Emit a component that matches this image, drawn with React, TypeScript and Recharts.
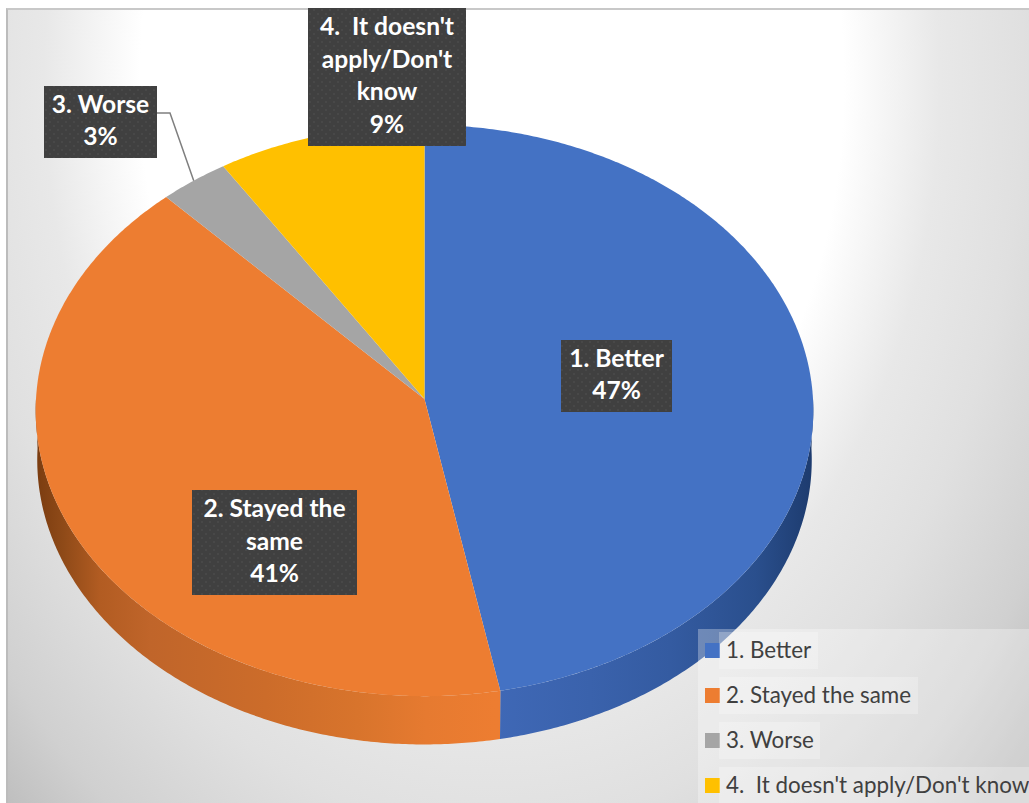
import { Legend, Pie, PieChart, Cell } from "recharts";

const categories = ["1. Better", "2. Stayed the same", "3. Worse", "4.  It doesn't apply/Don't know"];
const shares = [47, 41, 3, 9];
const sliceColors = ["#4472c4", "#ed7d31", "#a5a5a5", "#ffc000"];
const labelRows = [["1. Better"], ["2. Stayed the", "same"], ["3. Worse"], ["4.  It doesn't", "apply/Don't", "know"]];

// dark callout boxes, [left, top, width, height]
const labelBoxes = [
  [561, 340, 111, 72],
  [192, 490, 165, 105],
  [44, 86, 113, 72],
  [308, 8, 158, 138],
];

const sliceData = categories.map((name, i) => ({ name, value: shares[i] }));

// side wall shading, darkest at the far left / far right of the disc
const blueWallStops = [[0, "#3f68b6"], [0.3, "#3a62ac"], [0.55, "#345ba1"], [0.82, "#2a4f8d"], [1, "#1d3b6e"]];
const orangeWallStops = [[0, "#7a3c10"], [0.06, "#8f4a18"], [0.14, "#b25c22"], [0.25, "#c0652a"], [0.5, "#cc6c2a"], [0.7, "#d8742c"], [0.85, "#e67a30"], [1, "#ed7d31"]];

const WIDTH = 1029;
const HEIGHT = 803;
const CX = 424.5;
const CY = 399;
const RADIUS = 388.5;
const SQUASH = 0.734; // tilt of the disc
const TILT = 0.0403; // near edge drawn slightly larger than the far edge
const DEPTH = 49.5;

// projects a clockwise-from-top angle on the tilted disc
function project(theta: number, cx: number, cy: number, r: number, drop = 0) {
  const rad = (theta * Math.PI) / 180;
  const u = Math.sin(rad);
  const v = Math.cos(rad);
  const k = 1 + TILT * v;
  return [cx + (r * u) / k, cy + drop - (r * SQUASH * v) / k];
}

function arcPoints(from: number, to: number, cx: number, cy: number, r: number, drop = 0) {
  const steps = Math.max(2, Math.ceil(Math.abs(to - from) * 2));
  const pts: number[][] = [];
  for (let i = 0; i <= steps; i++) {
    pts.push(project(from + ((to - from) * i) / steps, cx, cy, r, drop));
  }
  return pts;
}

const toPath = (pts: number[][]) => pts.map((p, i) => `${i ? "L" : "M"}${p[0].toFixed(2)},${p[1].toFixed(2)}`).join("");

function TiltedSlice(props: any) {
  const { cx, cy, outerRadius, startAngle, endAngle, fill, name } = props;
  const from = 90 - startAngle;
  const to = 90 - endAngle;
  const wallFrom = Math.max(from, 90);
  const wallTo = Math.min(to, 270);
  const idx = categories.indexOf(name);
  const face = toPath([[cx, cy], ...arcPoints(from, to, cx, cy, outerRadius)]) + "Z";
  return (
    <g>
      {wallTo > wallFrom && (
        <path
          d={
            toPath([
              ...arcPoints(wallFrom, wallTo, cx, cy, outerRadius),
              ...arcPoints(wallTo, wallFrom, cx, cy, outerRadius * 0.996, DEPTH),
            ]) + "Z"
          }
          fill={`url(#wall-${idx})`}
        />
      )}
      <path d={face} fill={fill} />
    </g>
  );
}

function SliceLabel(props: any) {
  const { name, value } = props;
  const idx = categories.indexOf(name);
  const [x, y, w, h] = labelBoxes[idx];
  const rows = [...labelRows[idx], `${value}%`];
  const mid = x + w / 2;
  const step = 32.6;
  const first = y + h / 2 - ((rows.length - 1) * step) / 2 - 2.5;
  return (
    <g>
      <rect x={x} y={y} width={w} height={h} fill="#404040" />
      <rect x={x} y={y} width={w} height={h} fill="url(#label-dots)" />
      {rows.map((row, i) => (
        <text
          key={i}
          x={mid}
          y={first + i * step}
          textAnchor="middle"
          dominantBaseline="central"
          fill="#ffffff"
          fontFamily="Lato"
          fontWeight={700}
          fontSize={24.6}
          style={{ whiteSpace: "pre" }}
        >
          {row}
        </text>
      ))}
    </g>
  );
}

// only the small grey slice gets a leader line
function SliceLeader(props: any) {
  const { name, cx, cy, outerRadius, midAngle } = props;
  const idx = categories.indexOf(name);
  if (idx !== 2) return <g />;
  const [x, y, w] = labelBoxes[idx];
  const [ex, ey] = project(90 - midAngle, cx, cy, outerRadius);
  return <polyline points={`${x + w},${y + 27} ${x + w + 13},${y + 27} ${ex},${ey}`} fill="none" stroke="#7f7f7f" strokeWidth={1.5} />;
}

function LegendBox() {
  const widths = [99, 199, 101, 310];
  return (
    <div style={{ position: "relative", width: 331, height: 174, background: "rgba(255,255,255,0.3)", overflow: "hidden" }}>
      {categories.map((name, i) => (
        <div key={name}>
          <div style={{ position: "absolute", left: 7, top: 14 + i * 45, width: 15, height: 15, background: sliceColors[i] }} />
          <div
            style={{
              position: "absolute",
              left: 21,
              top: 3 + i * 45,
              width: widths[i],
              height: 37,
              background: "rgba(255,255,255,0.25)",
              color: "#404040",
              fontFamily: "Lato",
              fontSize: 22.4,
              lineHeight: "35px",
              paddingLeft: 7,
              boxSizing: "border-box",
              whiteSpace: "pre",
            }}
          >
            {name}
          </div>
        </div>
      ))}
    </div>
  );
}

export default function App() {
  return (
    <div style={{ position: "absolute", left: 0, top: 0, width: WIDTH, height: HEIGHT, background: "#fff", overflow: "hidden" }}>
      <div
        style={{
          position: "absolute",
          left: 6,
          top: 8,
          right: 0,
          bottom: 0,
          boxSizing: "border-box",
          borderTop: "2px solid #c8c8c8",
          borderLeft: "2px solid #bcbcbc",
          background:
            "radial-gradient(640px 900px at 484px 72px, #ffffff 0%, #ffffff 55%, #e8e8e8 70%, #e0e0e0 83%, #d0d0d0 100%, #bcbcbc 112%)",
        }}
      />
      <div style={{ position: "absolute", left: 0, top: 0 }}>
        <PieChart width={WIDTH} height={HEIGHT} margin={{ top: 0, right: 0, bottom: 0, left: 0 }}>
          <defs>
            <pattern id="label-dots" width="8" height="8" patternUnits="userSpaceOnUse">
              <circle cx="2" cy="2" r="1" fill="#4a4a4a" />
              <circle cx="6" cy="6" r="1" fill="#4a4a4a" />
            </pattern>
            <linearGradient id="wall-0" gradientUnits="userSpaceOnUse" x1={495} x2={813} y1={0} y2={0}>
              {blueWallStops.map(([o, c]) => (
                <stop key={o} offset={o} stopColor={c as string} />
              ))}
            </linearGradient>
            <linearGradient id="wall-1" gradientUnits="userSpaceOnUse" x1={36} x2={495} y1={0} y2={0}>
              {orangeWallStops.map(([o, c]) => (
                <stop key={o} offset={o} stopColor={c as string} />
              ))}
            </linearGradient>
          </defs>
          <Pie
            data={sliceData}
            dataKey="value"
            nameKey="name"
            cx={CX}
            cy={CY}
            outerRadius={RADIUS}
            startAngle={90}
            endAngle={-270}
            stroke="none"
            shape={TiltedSlice}
            label={SliceLabel}
            labelLine={SliceLeader}
            isAnimationActive={false}
            rootTabIndex={-1}
          >
            {sliceData.map((d, i) => (
              <Cell key={d.name} fill={sliceColors[i]} />
            ))}
          </Pie>
          <Legend
            content={LegendBox}
            wrapperStyle={{ position: "absolute", left: 698, top: 629, width: 331, height: 174 }}
          />
        </PieChart>
      </div>
    </div>
  );
}
